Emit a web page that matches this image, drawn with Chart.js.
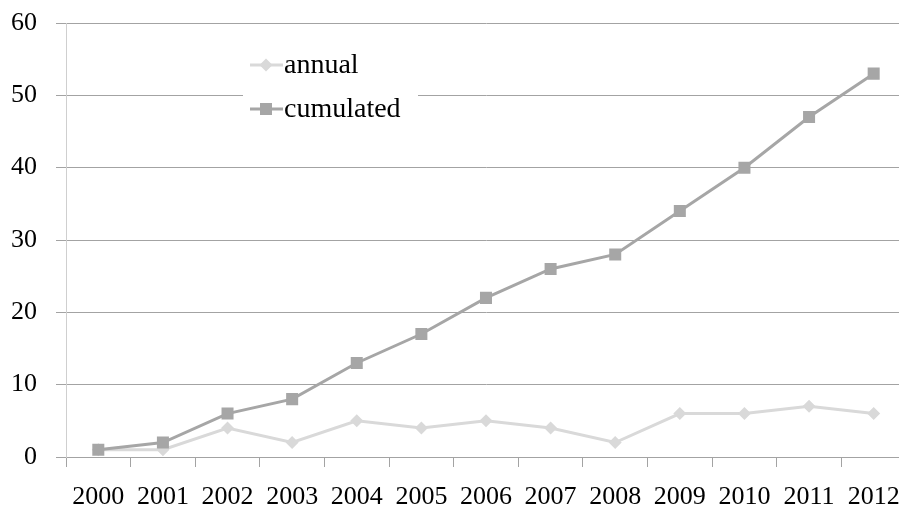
<!DOCTYPE html>
<html>
<head>
<meta charset="utf-8">
<script src="https://cdn.jsdelivr.net/npm/chart.js@4/dist/chart.umd.min.js"></script>
<style>
  html, body { margin: 0; padding: 0; background: #fff; overflow: hidden; }
  #wrap { width: 899px; height: 508px; overflow: hidden; position: relative; }
  canvas { display: block; }
</style>
</head>
<body>
<div id="wrap"><canvas id="c" width="915" height="508"></canvas></div>
<script>
const years = ['2000','2001','2002','2003','2004','2005','2006','2007','2008','2009','2010','2011','2012'];
const annual = [1, 1, 4, 2, 5, 4, 5, 4, 2, 6, 6, 7, 6];
const cumulated = [1, 2, 6, 8, 13, 17, 22, 26, 28, 34, 40, 47, 53];
const yTicks = [0, 10, 20, 30, 40, 50, 60];

const FONT = "'Liberation Serif', 'Times New Roman', serif";
const GRID = '#a3a3a3';
const LIGHT = '#d9d9d9';
const DARK = '#a6a6a6';

// Legend drawn inside the plot on a white panel that hides the grid lines behind it
const insetLegend = {
  id: 'insetLegend',
  beforeDatasetsDraw(chart) {
    const ctx = chart.ctx;
    ctx.save();
    ctx.fillStyle = '#fff';
    ctx.fillRect(243, 40, 175, 88);
    const rows = [
      { ds: chart.data.datasets[0], y: 65 },
      { ds: chart.data.datasets[1], y: 109 }
    ];
    ctx.font = '28px ' + FONT;
    ctx.textBaseline = 'middle';
    ctx.textAlign = 'left';
    rows.forEach(r => {
      ctx.strokeStyle = r.ds.borderColor;
      ctx.lineWidth = 3;
      ctx.beginPath();
      ctx.moveTo(250, r.y);
      ctx.lineTo(283, r.y);
      ctx.stroke();
      ctx.fillStyle = r.ds.pointBackgroundColor;
      const cx = 266;
      ctx.beginPath();
      if (r.ds.pointStyle === 'rect') {
        const h = r.ds.pointRadius * Math.SQRT1_2;
        ctx.rect(cx - h, r.y - h, 2 * h, 2 * h);
      } else {
        const d = r.ds.pointRadius;
        ctx.moveTo(cx, r.y - d);
        ctx.lineTo(cx + d, r.y);
        ctx.lineTo(cx, r.y + d);
        ctx.lineTo(cx - d, r.y);
        ctx.closePath();
      }
      ctx.fill();
      ctx.fillStyle = '#000';
      ctx.fillText(r.ds.label, 284, r.y + 1);
    });
    ctx.restore();
  }
};

new Chart(document.getElementById('c'), {
  type: 'line',
  data: {
    labels: years,
    datasets: [
      {
        label: 'annual',
        data: annual,
        order: 1,
        borderColor: LIGHT,
        backgroundColor: LIGHT,
        pointBackgroundColor: LIGHT,
        pointBorderColor: LIGHT,
        borderWidth: 3,
        pointStyle: 'rectRot',
        pointRadius: 6.5,
        pointBorderWidth: 0,
        tension: 0
      },
      {
        label: 'cumulated',
        data: cumulated,
        order: 0,
        borderColor: DARK,
        backgroundColor: DARK,
        pointBackgroundColor: DARK,
        pointBorderColor: DARK,
        borderWidth: 3,
        pointStyle: 'rect',
        pointRadius: 8.5,
        pointBorderWidth: 0,
        tension: 0
      }
    ]
  },
  options: {
    responsive: false,
    devicePixelRatio: 1,
    animation: false,
    layout: { padding: { top: 23, right: 0, left: 0, bottom: 0 } },
    plugins: {
      legend: { display: false },
      tooltip: { enabled: false }
    },
    scales: {
      x: {
        offset: true,
        grid: {
          offset: true,
          drawOnChartArea: false,
          drawTicks: true,
          tickLength: 10,
          color: GRID,
          lineWidth: 1
        },
        border: { color: GRID, width: 1 },
        ticks: {
          color: '#000',
          font: { family: FONT, size: 26 },
          padding: 15,
          maxRotation: 0,
          autoSkip: false
        },
        afterFit(scale) { scale.height = 51; }
      },
      y: {
        min: 0,
        max: 60,
        afterBuildTicks(scale) { scale.ticks = yTicks.map(v => ({ value: v })); },
        grid: {
          color: GRID,
          lineWidth: 1,
          tickLength: 10,
          drawTicks: true
        },
        border: { color: '#cfcfcf', width: 1 },
        ticks: {
          color: '#000',
          font: { family: FONT, size: 26 },
          padding: 19
        },
        afterFit(scale) {
          scale.width = 66;
          scale.paddingTop = 0;
          scale.paddingBottom = 0;
        }
      }
    }
  },
  plugins: [insetLegend]
});
</script>
</body>
</html>
